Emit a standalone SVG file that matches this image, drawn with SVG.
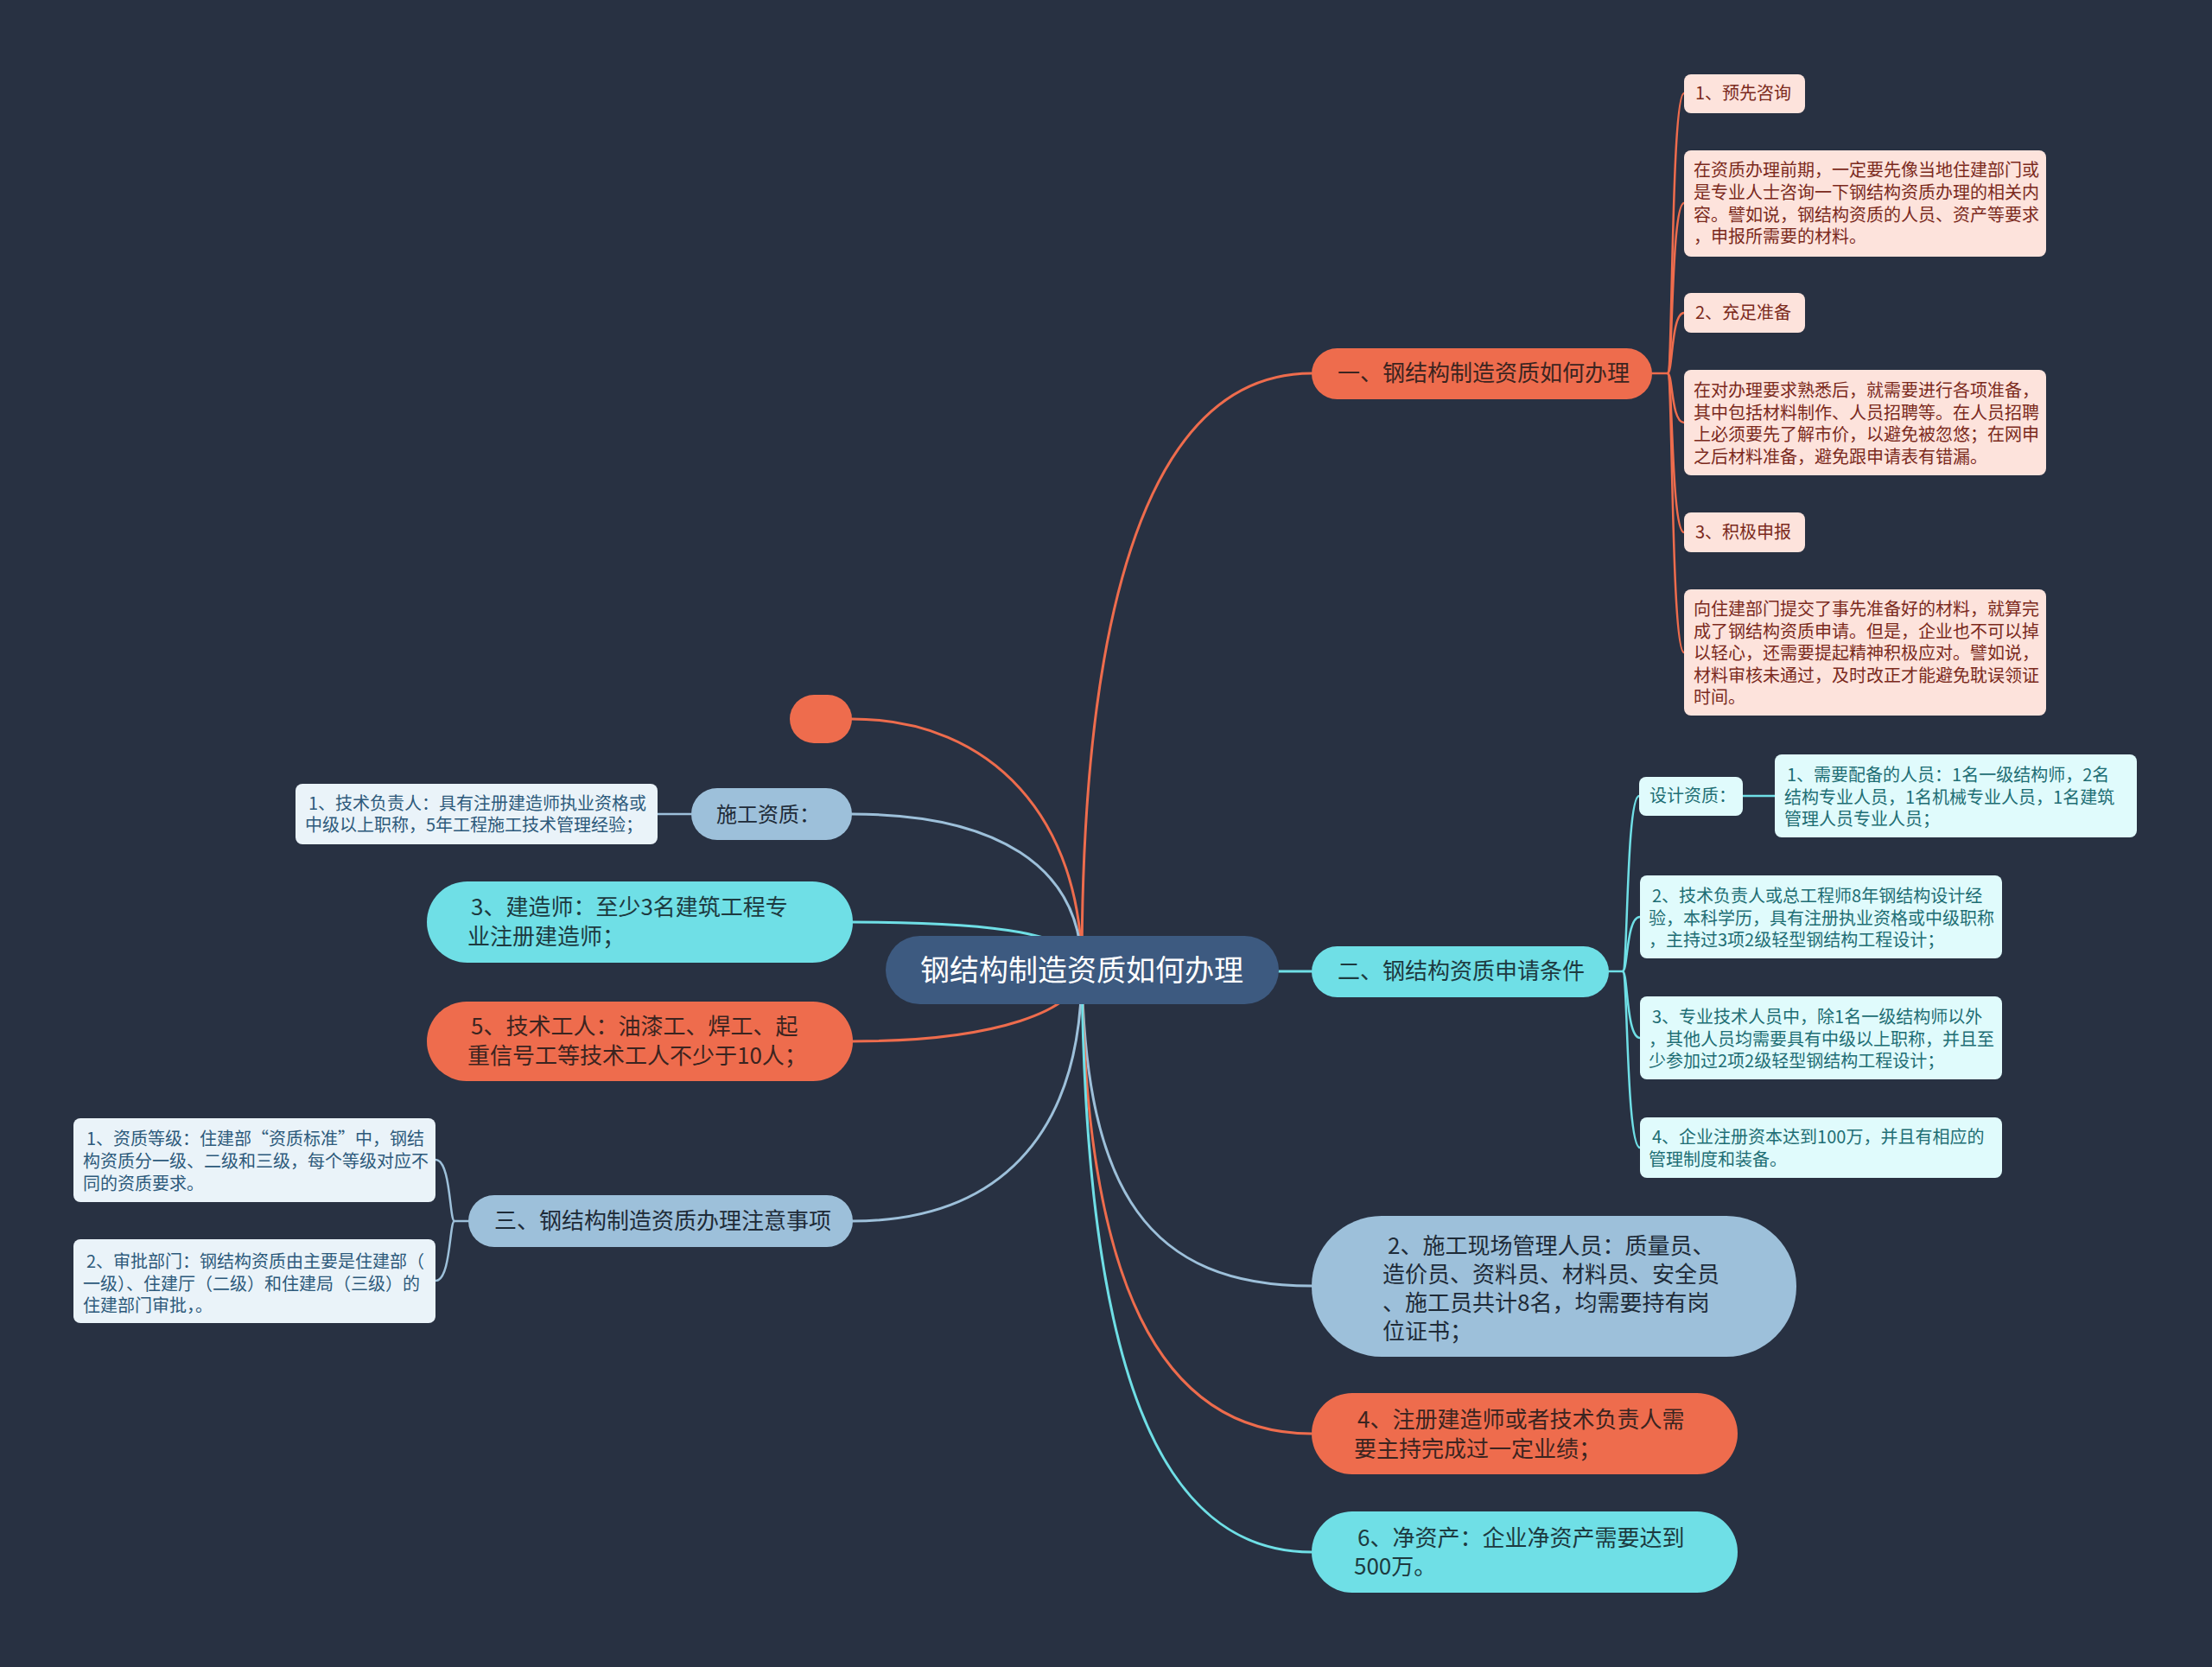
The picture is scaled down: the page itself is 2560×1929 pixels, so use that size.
<svg xmlns="http://www.w3.org/2000/svg" width="2560" height="1929" viewBox="0 0 2560 1929">
<style>
text{font-family:"Noto Sans CJK SC","Noto Sans",sans-serif}
.c{fill:none;stroke-width:3;stroke-linecap:round}
.s{fill:none;stroke-width:2.5;stroke-linecap:round}
.o{stroke:#ee6c4d}.cy{stroke:#6fdfe6}.lb{stroke:#9dc0da}
.fo{fill:#ee6c4d}.fcy{fill:#6fdfe6}.flb{fill:#9dc0da}
.t1{font-size:26px}
.to{fill:#3b2420}.tcy{fill:#1d3a40}.tlb{fill:#1e2b38}
.sub{font-size:20px}
.po{fill:#fde3dc}.pcy{fill:#e0fbfc}.plb{fill:#eaf3f9}
.so{fill:#7b2a1c}.scy{fill:#1e6e74}.slb{fill:#2d5a7b}
</style>
<rect width="2560" height="1929" fill="#283142"/>
<g id="connectors">
<path class="c o" d="M1252 1122 C1252 700 1330 432 1518 432"/>
<path class="c cy" d="M1480 1124 H1518"/>
<path class="c o" d="M1252 1122 C1252 950 1150 832 986 832"/>
<path class="c lb" d="M1252 1122 C1252 1000 1150 942 986 942"/>
<path class="c cy" d="M1252 1122 C1252 1080 1150 1067 986 1067"/>
<path class="c o" d="M1252 1122 C1252 1170 1150 1205 986 1205"/>
<path class="c lb" d="M1252 1122 C1252 1320 1150 1413 986 1413"/>
<path class="c lb" d="M1252 1122 C1256 1380 1330 1488 1518 1488"/>
<path class="c o" d="M1252 1122 C1256 1480 1340 1659 1518 1659"/>
<path class="c cy" d="M1252 1122 C1256 1580 1340 1796 1518 1796"/>
<path class="s o" d="M1912 432 H1930 C1936 432 1934 108 1949 108"/>
<path class="s o" d="M1930 432 C1936 432 1934 235 1949 235"/>
<path class="s o" d="M1930 432 C1936 432 1934 362 1949 362"/>
<path class="s o" d="M1930 432 C1936 432 1934 489 1949 489"/>
<path class="s o" d="M1930 432 C1936 432 1934 616 1949 616"/>
<path class="s o" d="M1930 432 C1936 432 1934 755 1949 755"/>
<path class="s cy" d="M1862 1124 H1878 C1884 1124 1882 921 1897 921"/>
<path class="s cy" d="M1878 1124 C1884 1124 1882 1061 1898 1061"/>
<path class="s cy" d="M1878 1124 C1884 1124 1882 1201 1898 1201"/>
<path class="s cy" d="M1878 1124 C1884 1124 1882 1328 1898 1328"/>
<path class="s cy" d="M2017 921 H2054"/>
<path class="s lb" d="M761 942 H800"/>
<path class="s lb" d="M542 1413 H526 C520 1413 522 1342 504 1342"/>
<path class="s lb" d="M526 1413 C520 1413 522 1482 504 1482"/>
</g>
<g id="center">
<rect x="1025" y="1083" width="455" height="79" rx="39.5" fill="#3d5a80"/>
<text x="1252" y="1135" font-size="34" fill="#ffffff" text-anchor="middle">钢结构制造资质如何办理</text>
</g>
<g id="n1">
<rect class="fo" x="1518" y="403" width="394" height="59" rx="29.5"/>
<text class="t1 to" x="1548" y="441">一、钢结构制造资质如何办理</text>
</g>
<g id="n1c1"><rect class="po" x="1949" y="86" width="140" height="45" rx="8"/><text class="sub so" x="1962" y="115">1、预先咨询</text></g>
<g id="n1c2"><rect class="po" x="1949" y="174" width="419" height="123" rx="8"/>
<text class="sub so"><tspan x="1960" y="204">在资质办理前期，一定要先像当地住建部门或</tspan><tspan x="1960" y="230">是专业人士咨询一下钢结构资质办理的相关内</tspan><tspan x="1960" y="256">容。譬如说，钢结构资质的人员、资产等要求</tspan><tspan x="1960" y="281">，申报所需要的材料。</tspan></text></g>
<g id="n1c3"><rect class="po" x="1949" y="339" width="140" height="46" rx="8"/><text class="sub so" x="1962" y="369">2、充足准备</text></g>
<g id="n1c4"><rect class="po" x="1949" y="428" width="419" height="122" rx="8"/>
<text class="sub so"><tspan x="1960" y="459">在对办理要求熟悉后，就需要进行各项准备，</tspan><tspan x="1960" y="485">其中包括材料制作、人员招聘等。在人员招聘</tspan><tspan x="1960" y="510">上必须要先了解市价，以避免被忽悠；在网申</tspan><tspan x="1960" y="536">之后材料准备，避免跟申请表有错漏。</tspan></text></g>
<g id="n1c5"><rect class="po" x="1949" y="593" width="140" height="46" rx="8"/><text class="sub so" x="1962" y="623">3、积极申报</text></g>
<g id="n1c6"><rect class="po" x="1949" y="682" width="419" height="146" rx="8"/>
<text class="sub so"><tspan x="1960" y="712">向住建部门提交了事先准备好的材料，就算完</tspan><tspan x="1960" y="738">成了钢结构资质申请。但是，企业也不可以掉</tspan><tspan x="1960" y="763">以轻心，还需要提起精神积极应对。譬如说，</tspan><tspan x="1960" y="789">材料审核未通过，及时改正才能避免耽误领证</tspan><tspan x="1960" y="814">时间。</tspan></text></g>
<g id="n2">
<rect class="fcy" x="1518" y="1095" width="344" height="59" rx="29.5"/>
<text class="t1 tcy" x="1548" y="1133">二、钢结构资质申请条件</text>
</g>
<g id="n2c1"><rect class="pcy" x="1897" y="899" width="120" height="45" rx="8"/><text class="sub scy" x="1909" y="928">设计资质：</text></g>
<g id="n2c1a"><rect class="pcy" x="2054" y="873" width="419" height="96" rx="8"/>
<text class="sub scy"><tspan x="2068" y="904">1、需要配备的人员：1名一级结构师，2名</tspan><tspan x="2065" y="930">结构专业人员，1名机械专业人员，1名建筑</tspan><tspan x="2065" y="955">管理人员专业人员；</tspan></text></g>
<g id="n2c2"><rect class="pcy" x="1898" y="1013" width="419" height="96" rx="8"/>
<text class="sub scy"><tspan x="1912" y="1044">2、技术负责人或总工程师8年钢结构设计经</tspan><tspan x="1908" y="1070">验，本科学历，具有注册执业资格或中级职称</tspan><tspan x="1908" y="1095">，主持过3项2级轻型钢结构工程设计；</tspan></text></g>
<g id="n2c3"><rect class="pcy" x="1898" y="1153" width="419" height="96" rx="8"/>
<text class="sub scy"><tspan x="1912" y="1184">3、专业技术人员中，除1名一级结构师以外</tspan><tspan x="1908" y="1210">，其他人员均需要具有中级以上职称，并且至</tspan><tspan x="1908" y="1235">少参加过2项2级轻型钢结构工程设计；</tspan></text></g>
<g id="n2c4"><rect class="pcy" x="1898" y="1293" width="419" height="70" rx="8"/>
<text class="sub scy"><tspan x="1912" y="1323">4、企业注册资本达到100万，并且有相应的</tspan><tspan x="1908" y="1349">管理制度和装备。</tspan></text></g>
<g id="n3"><rect class="fo" x="914" y="804" width="72" height="56" rx="28"/></g>
<g id="n4">
<rect class="flb" x="800" y="912" width="186" height="60" rx="30"/>
<text class="tlb" font-size="24" x="829" y="951">施工资质：</text>
</g>
<g id="n4c1"><rect class="plb" x="342" y="907" width="419" height="70" rx="8"/>
<text class="sub slb"><tspan x="357" y="937">1、技术负责人：具有注册建造师执业资格或</tspan><tspan x="353" y="962">中级以上职称，5年工程施工技术管理经验；</tspan></text></g>
<g id="n5">
<rect class="fcy" x="494" y="1020" width="493" height="94" rx="47"/>
<text class="t1 tcy"><tspan x="545" y="1059">3、建造师：至少3名建筑工程专</tspan><tspan x="541" y="1093">业注册建造师；</tspan></text>
</g>
<g id="n6">
<rect class="fo" x="494" y="1159" width="493" height="92" rx="46"/>
<text class="t1 to"><tspan x="545" y="1197">5、技术工人：油漆工、焊工、起</tspan><tspan x="541" y="1231">重信号工等技术工人不少于10人；</tspan></text>
</g>
<g id="n7">
<rect class="flb" x="542" y="1383" width="445" height="60" rx="30"/>
<text class="t1 tlb" x="572" y="1422">三、钢结构制造资质办理注意事项</text>
</g>
<g id="n7c1"><rect class="plb" x="85" y="1294" width="419" height="97" rx="8"/>
<text class="sub slb"><tspan x="100" y="1325">1、资质等级：住建部“资质标准”中，钢结</tspan><tspan x="96" y="1351">构资质分一级、二级和三级，每个等级对应不</tspan><tspan x="96" y="1377">同的资质要求。</tspan></text></g>
<g id="n7c2"><rect class="plb" x="85" y="1434" width="419" height="97" rx="8"/>
<text class="sub slb"><tspan x="100" y="1467">2、审批部门：钢结构资质由主要是住建部（</tspan><tspan x="96" y="1493">一级）、住建厅（二级）和住建局（三级）的</tspan><tspan x="96" y="1518">住建部门审批，。</tspan></text></g>
<g id="n8">
<rect class="flb" x="1518" y="1407" width="561" height="163" rx="81"/>
<text class="t1 tlb"><tspan x="1606" y="1451">2、施工现场管理人员：质量员、</tspan><tspan x="1600" y="1484">造价员、资料员、材料员、安全员</tspan><tspan x="1600" y="1517">、施工员共计8名，均需要持有岗</tspan><tspan x="1600" y="1550">位证书；</tspan></text>
</g>
<g id="n9">
<rect class="fo" x="1518" y="1612" width="493" height="94" rx="47"/>
<text class="t1 to"><tspan x="1571" y="1652">4、注册建造师或者技术负责人需</tspan><tspan x="1567" y="1686">要主持完成过一定业绩；</tspan></text>
</g>
<g id="n10">
<rect class="fcy" x="1518" y="1749" width="493" height="94" rx="47"/>
<text class="t1 tcy"><tspan x="1571" y="1789">6、净资产：企业净资产需要达到</tspan><tspan x="1567" y="1822">500万。</tspan></text>
</g>
</svg>
